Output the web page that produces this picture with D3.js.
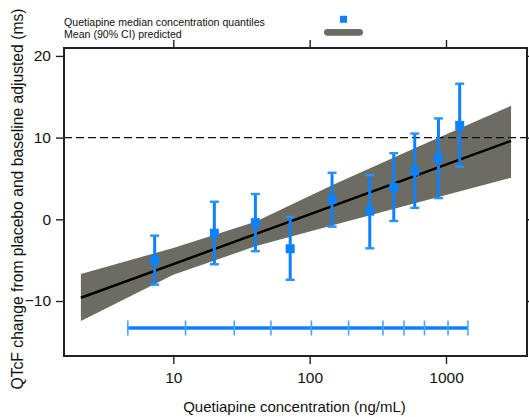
<!DOCTYPE html>
<html>
<head>
<meta charset="utf-8">
<script src="https://cdn.jsdelivr.net/npm/d3@7"></script>
<style>
  html, body { margin: 0; padding: 0; background: #fff; }
  svg { display: block; font-family: "Liberation Sans", Arial, sans-serif; }
</style>
</head>
<body>
<svg id="chart" width="529" height="417"></svg>
<script>
// Observed quantile bins: median concentration (ng/mL), mean QTcF change and 90% CI
const binConc  = [7.3, 20, 40, 72, 146, 276, 414, 590, 880, 1260];
const binMean  = [-5.0, -1.7, -0.4, -3.6, 2.45, 1.0, 3.9, 5.9, 7.5, 11.5];
const binLower = [-8.0, -5.5, -3.9, -7.4, -0.9, -3.55, -0.2, 1.4, 2.6, 6.45];
const binUpper = [-2.0, 2.15, 3.1, 0.3, 5.7, 5.4, 8.1, 10.5, 12.35, 16.6];

// Concentration quantile boundaries (ng/mL)
const quantileBreaks = [4.64, 12.3, 28, 52, 103, 193, 345, 492, 695, 1035, 1449];
const quantileBarLevel = -13.3;

// Model prediction: mean and 90% CI
const predConc  = [2.1, 10, 40, 150, 600, 3000];
const predMean  = [-9.6, -5.48, -1.81, 1.68, 5.34, 9.6];
const predLower = [-12.45, -6.8, -3.3, -0.7, 2.0, 5.1];
const predUpper = [-6.7, -3.5, -0.3, 4.27, 8.75, 13.9];

// Axis ticks and reference threshold
const xTicks = [10, 100, 1000];
const yTicks = [-10, 0, 10, 20];
const threshold = 10;

const legendLabels = ["Quetiapine median concentration quantiles", "Mean (90% CI) predicted"];
const xTitle = "Quetiapine concentration (ng/mL)";
const yTitle = "QTcF change from placebo and baseline adjusted (ms)";

const blue = "#0c82ff";
const bandGrey = "#6d6c63";
const frame = "#222";

const svg = d3.select("#chart");
const L = 64, R = 527, T = 48, B = 356;

const x = d3.scaleLog().domain([1.579, 3927]).range([L, R]);
const y = d3.scaleLinear().domain([-16.73, 20.97]).range([B, T]);

// Prediction band
const pred = predConc.map((c, i) => ({ c, m: predMean[i], lo: predLower[i], hi: predUpper[i] }));
svg.append("path")
  .datum(pred)
  .attr("fill", bandGrey)
  .attr("d", d3.area().x(d => x(d.c)).y0(d => y(d.lo)).y1(d => y(d.hi)));

// Reference threshold
svg.append("line")
  .attr("x1", L).attr("x2", R)
  .attr("y1", y(threshold)).attr("y2", y(threshold))
  .attr("stroke", "#111").attr("stroke-width", 1.1)
  .attr("stroke-dasharray", "8,4");

// Predicted mean line
svg.append("path")
  .datum(pred)
  .attr("fill", "none").attr("stroke", "#000").attr("stroke-width", 2.5)
  .attr("d", d3.line().x(d => x(d.c)).y(d => y(d.m)));

// Quantile bar
const qb = svg.append("g");
qb.append("line")
  .attr("x1", x(quantileBreaks[0])).attr("x2", x(quantileBreaks[quantileBreaks.length - 1]))
  .attr("y1", y(quantileBarLevel)).attr("y2", y(quantileBarLevel))
  .attr("stroke", blue).attr("stroke-width", 3.3);
qb.selectAll("line.brk").data(quantileBreaks).enter().append("line")
  .attr("class", "brk")
  .attr("x1", d => x(d)).attr("x2", d => x(d))
  .attr("y1", y(quantileBarLevel) - 7.5).attr("y2", y(quantileBarLevel) + 7.5)
  .attr("stroke", "#4ea3ff").attr("stroke-width", 1.6);

// Observed bins: error bars and squares
const bins = binConc.map((c, i) => ({ c, m: binMean[i], lo: binLower[i], hi: binUpper[i] }));
const bg = svg.append("g");
bg.selectAll("line.err").data(bins).enter().append("line")
  .attr("class", "err")
  .attr("x1", d => x(d.c)).attr("x2", d => x(d.c))
  .attr("y1", d => y(d.lo)).attr("y2", d => y(d.hi))
  .attr("stroke", blue).attr("stroke-width", 3);
["lo", "hi"].forEach(k => {
  bg.selectAll("line.cap" + k).data(bins).enter().append("line")
    .attr("x1", d => x(d.c) - 4.5).attr("x2", d => x(d.c) + 4.5)
    .attr("y1", d => y(d[k])).attr("y2", d => y(d[k]))
    .attr("stroke", "#2b91ff").attr("stroke-width", 2.4);
});
bg.selectAll("rect").data(bins).enter().append("rect")
  .attr("x", d => x(d.c) - 4.5).attr("y", d => y(d.m) - 4.5)
  .attr("width", 9).attr("height", 9)
  .attr("fill", blue);

// Frame and axes
svg.append("rect")
  .attr("x", L).attr("y", T).attr("width", R - L).attr("height", B - T)
  .attr("fill", "none").attr("stroke", frame).attr("stroke-width", 2);

const tickStyle = g => {
  g.select(".domain").remove();
  g.selectAll(".tick line").attr("stroke", frame).attr("stroke-width", 1.4);
  g.selectAll(".tick text").attr("fill", "#111").style("font-size", "15.5px");
};

svg.append("g").attr("transform", `translate(0,${B})`)
  .call(d3.axisBottom(x).tickValues(xTicks).tickFormat(d3.format("d")).tickSize(8).tickPadding(8))
  .call(tickStyle);
svg.append("g").attr("transform", `translate(0,${T})`)
  .call(d3.axisTop(x).tickValues(xTicks).tickFormat("").tickSize(8))
  .call(tickStyle);
svg.append("g").attr("transform", `translate(${L},0)`)
  .call(d3.axisLeft(y).tickValues(yTicks).tickFormat(d3.format("d")).tickSize(8).tickPadding(5))
  .call(tickStyle);
svg.append("g").attr("transform", `translate(${R},0)`)
  .call(d3.axisRight(y).tickValues(yTicks).tickFormat("").tickSize(6))
  .call(tickStyle);

// Axis titles
svg.append("text")
  .attr("x", (L + R) / 2 - 1).attr("y", 412)
  .attr("text-anchor", "middle").attr("fill", "#111")
  .style("font-size", "15px").text(xTitle);
svg.append("text")
  .attr("transform", `translate(23,199) rotate(-90)`)
  .attr("text-anchor", "middle").attr("fill", "#111")
  .style("font-size", "15.7px").text(yTitle);

// Legend
const lg = svg.append("g");
lg.selectAll("text").data(legendLabels).enter().append("text")
  .attr("x", 64).attr("y", (d, i) => 25.5 + i * 12.5)
  .attr("fill", "#111").style("font-size", "10.6px").text(d => d);
lg.append("rect")
  .attr("x", 340).attr("y", 15.8).attr("width", 7).attr("height", 7)
  .attr("fill", blue);
lg.append("rect")
  .attr("x", 324).attr("y", 29).attr("width", 39).attr("height", 6.7)
  .attr("rx", 3.35).attr("ry", 3.35)
  .attr("fill", bandGrey);
</script>
</body>
</html>
